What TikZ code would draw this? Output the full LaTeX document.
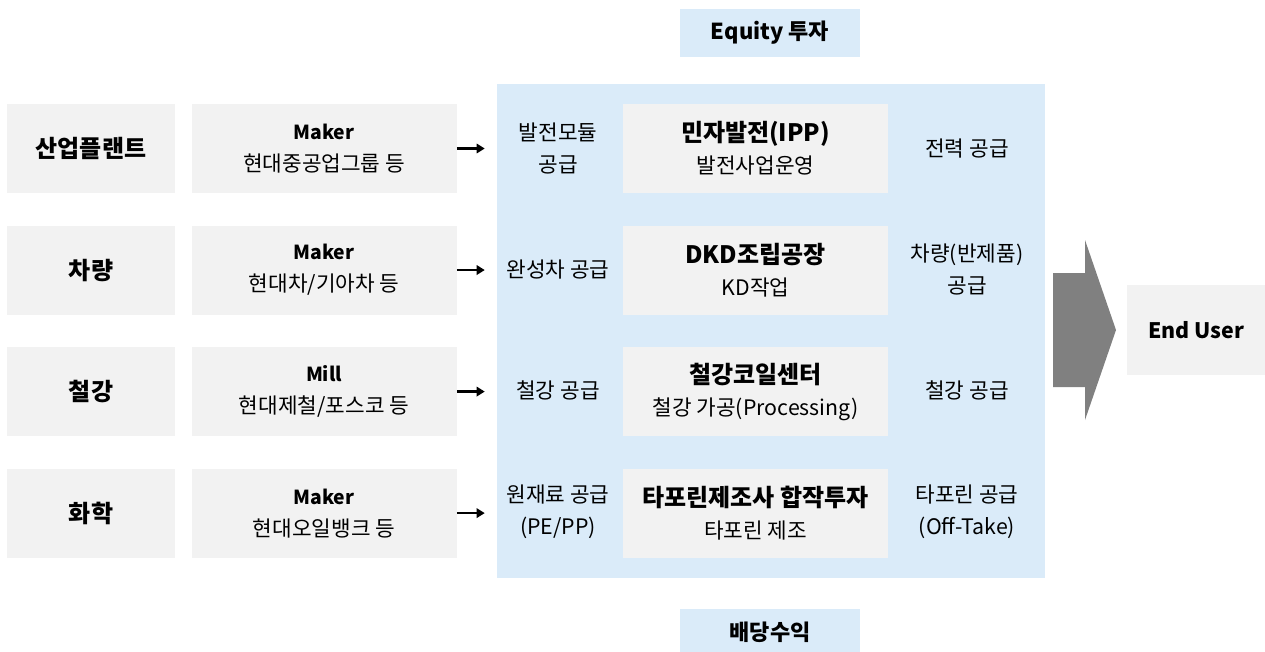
\documentclass[tikz,border=0pt]{standalone}
\usepackage{fontspec}
\setmainfont{Noto Sans CJK KR}
\usetikzlibrary{positioning,arrows.meta}

\definecolor{boxgray}{RGB}{242,242,242}
\definecolor{hubblue}{RGB}{218,235,249}
\definecolor{arrowgray}{RGB}{128,128,128}

\begin{document}
\begin{tikzpicture}[x=0.75pt,y=-0.75pt,
sector/.style={rectangle, fill=boxgray, minimum width=126pt, minimum height=66.75pt, inner sep=0pt, font=\fontsize{18}{24}\selectfont\bfseries},
maker/.style={rectangle, fill=boxgray, minimum width=198.75pt, minimum height=66.75pt, inner sep=0pt, align=center, font=\fontsize{16}{24}\selectfont},
venture/.style={rectangle, fill=boxgray, minimum width=198.75pt, minimum height=66.75pt, inner sep=0pt, align=center, font=\fontsize{16}{24}\selectfont},
supply/.style={inner sep=0pt, align=center, font=\fontsize{16}{24}\selectfont},
hub/.style={rectangle, fill=hubblue, minimum width=411pt, minimum height=370.5pt, inner sep=0pt},
tag/.style={rectangle, fill=hubblue, minimum width=135pt, minimum height=36pt, inner sep=0pt, font=\fontsize{16.5}{20}\selectfont\bfseries},
enduser/.style={rectangle, fill=boxgray, minimum width=103.5pt, minimum height=67.5pt, inner sep=0pt, font=\fontsize{16}{20}\selectfont\bfseries},
flow/.style={-{Triangle[length=6pt,width=7pt]}, line width=1.8pt, shorten >=9pt}
]
\useasboundingbox (0,0) rectangle (1265,651);

\node[hub](hub) at (771,331) {};

\node[tag](equity) at (770,33) {Equity 투자};
\node[tag](dividend) at (770,632.5) {배당수익};

% industries
\node[sector](plant) at (91,148.5) {산업플랜트};
\node[sector](car)[below=24pt of plant] {차량};
\node[sector](steel)[below=24pt of car] {철강};
\node[sector](chem)[below=24pt of steel] {화학};

\node[maker](plant_maker)[right=12pt of plant] {{\fontsize{14.5}{24}\selectfont\bfseries Maker}\\현대중공업그룹 등};
\node[maker](car_maker)[right=12pt of car] {{\fontsize{14.5}{24}\selectfont\bfseries Maker}\\현대차/기아차 등};
\node[maker](steel_maker)[right=12pt of steel] {{\fontsize{14.5}{24}\selectfont\bfseries Mill}\\현대제철/포스코 등};
\node[maker](chem_maker)[right=12pt of chem] {{\fontsize{14.5}{24}\selectfont\bfseries Maker}\\현대오일뱅크 등};

\draw[flow] (plant_maker.east) -- (plant_maker.east -| hub.west);
\draw[flow] (car_maker.east) -- (car_maker.east -| hub.west);
\draw[flow] (steel_maker.east) -- (steel_maker.east -| hub.west);
\draw[flow] (chem_maker.east) -- (chem_maker.east -| hub.west);

% local business
\node[venture](ipp) at (755.5,148.5) {{\fontsize{18}{24}\selectfont\bfseries 민자발전(IPP)}\\발전사업운영};
\node[venture](dkd)[below=24pt of ipp] {{\fontsize{18}{24}\selectfont\bfseries DKD조립공장}\\KD작업};
\node[venture](coil)[below=24pt of dkd] {{\fontsize{18}{24}\selectfont\bfseries 철강코일센터}\\철강 가공(Processing)};
\node[venture](tarp)[below=24pt of coil] {{\fontsize{18}{24}\selectfont\bfseries 타포린제조사 합작투자}\\타포린 제조};

\node[supply](ipp_in) at (558,148.5) {발전모듈\\공급};
\node[supply](dkd_in) at (558,269.5) {완성차 공급};
\node[supply](coil_in) at (558,390.5) {철강 공급};
\node[supply](tarp_in) at (558,511.5) {원재료 공급\\(PE/PP)};

\node[supply](ipp_out) at (967,148.5) {전력 공급};
\node[supply](dkd_out) at (967,269.5) {차량(반제품)\\공급};
\node[supply](coil_out) at (967,390.5) {철강 공급};
\node[supply](tarp_out) at (967,511.5) {타포린 공급\\(Off-Take)};

% to the customer
\fill[arrowgray] (1053,273) -- (1085,273) -- (1085,240) -- (1116,330) -- (1085,420) -- (1085,387) -- (1053,387) -- cycle;
\node[enduser](user) at (1196,330) {End User};
\end{tikzpicture}
\end{document}
